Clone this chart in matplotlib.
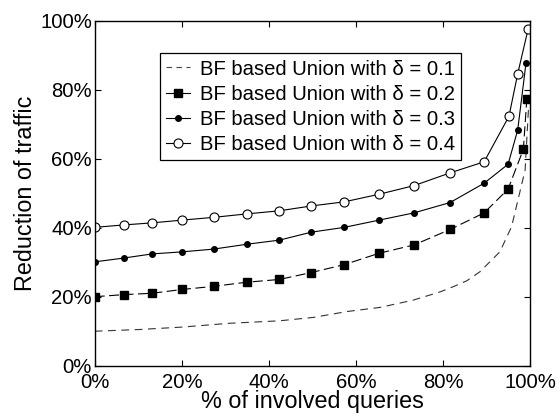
import matplotlib.pyplot as plt
from matplotlib.lines import Line2D
from matplotlib.ticker import FuncFormatter

plt.rcParams["font.family"] = ["Liberation Sans", "DejaVu Sans"]

# x positions of the markers (% of involved queries)
x_common = [0, 6.66, 13.15, 20.1, 27.3, 34.9, 42.4, 49.7, 57.3, 65.3, 73.3, 81.6, 89.4]
x_d02 = x_common + [94.9, 98.4, 99.2]
x_d03 = x_common + [94.9, 97.1, 99.0]
x_d04 = x_common + [95.1, 97.1, 99.5]

y_d02 = [20.0, 20.6, 21.0, 22.1, 23.0, 24.2, 25.0, 27.0, 29.3, 32.6, 35.0, 39.5, 44.3, 51.2, 62.7, 77.3]
y_d03 = [30.1, 31.2, 32.4, 33.0, 33.8, 35.2, 36.4, 38.7, 40.1, 42.2, 44.3, 47.3, 52.9, 58.4, 68.3, 87.6]
y_d04 = [40.1, 40.8, 41.4, 42.2, 43.0, 44.0, 44.9, 46.3, 47.5, 49.7, 52.2, 55.9, 59.1, 72.3, 84.6, 97.6]

# delta = 0.1 has no markers, just a dashed curve
x_d01 = [0, 10.4, 20.1, 31, 42.3, 50.2, 57.9, 65.5, 73.1, 79.3, 82.3, 85.4, 88.4, 90.7, 93.0, 95.7, 98.8, 99.6]
y_d01 = [10.0, 10.5, 11.2, 12.3, 13.0, 14.0, 15.7, 16.9, 19.0, 21.4, 22.9, 24.6, 27.2, 30.1, 33.0, 40.3, 56.7, 75.0]

labels = ["BF based Union with \u03b4 = 0.1", "BF based Union with \u03b4 = 0.2",
          "BF based Union with \u03b4 = 0.3", "BF based Union with \u03b4 = 0.4"]

fig = plt.figure(figsize=(5.58, 4.13), dpi=100)
ax = fig.add_axes([0.1697, 0.1145, 0.7807, 0.8354])

LW = 0.8
ax.plot(x_d01, y_d01, color="#333333", lw=LW, ls=(0, (7, 5)))
ax.plot(x_d02, y_d02, color="black", lw=LW, ls=(0, (9, 4)),
        marker="s", ms=5.5, mfc="black", mec="black")
ax.plot(x_d03, y_d03, color="black", lw=LW, marker="o", ms=4, mfc="black", mec="black")
ax.plot(x_d04, y_d04, color="black", lw=LW, marker="o", ms=6.5, mfc="white", mec="black", mew=0.8)

handles = [
    Line2D([], [], color="#444444", lw=LW, ls=(0, (5, 4))),
    Line2D([], [], color="black", lw=LW, marker="s", ms=5.5, mfc="black", mec="black"),
    Line2D([], [], color="black", lw=LW, marker="o", ms=4, mfc="black", mec="black"),
    Line2D([], [], color="black", lw=LW, marker="o", ms=6.5, mfc="white", mec="black", mew=0.8),
]
leg = ax.legend(handles, labels, loc="upper left", bbox_to_anchor=(0.15, 0.905),
                fontsize=14.6, frameon=True, fancybox=False, framealpha=1,
                edgecolor="black", handlelength=1.2, handletextpad=0.45,
                labelspacing=0.3, borderpad=0.3, borderaxespad=0)
leg.get_frame().set_linewidth(0.9)

ax.set_xlim(0, 100)
ax.set_ylim(0, 100)
ax.set_xticks([0, 20, 40, 60, 80, 100])
ax.set_yticks([0, 20, 40, 60, 80, 100])
pct = FuncFormatter(lambda v, p: f"{v:.0f}%")
ax.xaxis.set_major_formatter(pct)
ax.yaxis.set_major_formatter(pct)
ax.tick_params(direction="in", top=True, right=True, length=4, width=0.8,
               labelsize=14.6)
ax.tick_params(axis="x", pad=5)
ax.tick_params(axis="y", pad=2)
for s in ax.spines.values():
    s.set_linewidth(1.0)

ax.set_xlabel("% of involved queries", fontsize=16.8, labelpad=-1)
ax.set_ylabel("Reduction of traffic", fontsize=16.8, labelpad=2)

fig.savefig("out.png", dpi=100)
